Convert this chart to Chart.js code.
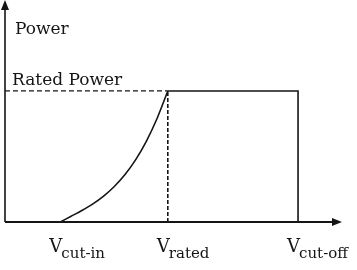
<!DOCTYPE html>
<html><head><meta charset="utf-8">
<script src="https://cdn.jsdelivr.net/npm/chart.js@4/dist/chart.umd.min.js"></script>
<style>html,body{margin:0;padding:0;background:#fff}#wrap{width:357px;height:270px}</style>
</head><body><div id="wrap"><canvas id="c"></canvas></div>
<script>
// wind speeds (arbitrary units) and power (fraction of rated)
const vCutIn = 3.4;
const vRated = 10;
const vCutOff = 18;
const ratedPower = 1;
const curveX = [3.4, 4.06, 4.72, 5.38, 6.04, 6.7, 7.36, 8.02, 8.68, 9.34, 10];
const curveY = [0, 0.044, 0.088, 0.137, 0.196, 0.269, 0.36, 0.474, 0.616, 0.79, 1];
const tickValues = [vCutIn, vRated, vCutOff];
const tickMain = ['V', 'V', 'V'];
const tickSub = ['cut-in', 'rated', 'cut-off'];
const yTitle = 'Power';
const ratedLabel = 'Rated Power';

const ink = '#151515';
const curveData = curveX.map((x, i) => ({x, y: curveY[i]}));

const overlay = {
  id: 'overlay',
  afterDraw(chart) {
    const {ctx, chartArea: a, scales: {x, y}} = chart;
    ctx.save();
    ctx.strokeStyle = ink; ctx.fillStyle = ink;
    // axes
    ctx.lineWidth = 1.6;
    ctx.beginPath(); ctx.moveTo(a.left, a.bottom); ctx.lineTo(a.left, a.top + 4); ctx.stroke();
    ctx.lineWidth = 2;
    ctx.beginPath(); ctx.moveTo(a.left, a.bottom); ctx.lineTo(a.right - 4, a.bottom); ctx.stroke();
    // arrows
    ctx.beginPath(); ctx.moveTo(a.left, a.top - 2); ctx.lineTo(a.left - 4, a.top + 8); ctx.lineTo(a.left + 4, a.top + 8); ctx.closePath(); ctx.fill();
    ctx.beginPath(); ctx.moveTo(a.right, a.bottom); ctx.lineTo(a.right - 10, a.bottom - 4); ctx.lineTo(a.right - 10, a.bottom + 4); ctx.closePath(); ctx.fill();
    // texts
    ctx.textBaseline = 'alphabetic';
    ctx.textAlign = 'left';
    ctx.font = '17px "DejaVu Serif"';
    ctx.fillText(yTitle, a.left + 10, 34);
    ctx.fillText(ratedLabel, a.left + 7, y.getPixelForValue(ratedPower) - 6);
    tickValues.forEach((v, i) => {
      const px = x.getPixelForValue(v);
      ctx.font = '18px "DejaVu Serif"';
      const mx = px - 11;
      ctx.fillText(tickMain[i], mx, a.bottom + 30);
      const w = ctx.measureText(tickMain[i]).width;
      ctx.font = '15px "DejaVu Serif"';
      ctx.fillText(tickSub[i], mx + w - 1, a.bottom + 36);
    });
    ctx.restore();
  }
};

new Chart(document.getElementById('c'), {
  type: 'scatter',
  data: {
    datasets: [
      {data: curveData, showLine: true, borderColor: ink, borderWidth: 1.6, pointRadius: 0, cubicInterpolationMode: 'monotone', clip: false},
      {data: [{x: 0, y: ratedPower}, {x: vRated, y: ratedPower}], showLine: true, borderColor: ink, borderWidth: 1.2, borderDash: [5, 3], pointRadius: 0, clip: false},
      {data: [{x: vRated, y: 0}, {x: vRated, y: ratedPower}], showLine: true, borderColor: ink, borderWidth: 1.6, borderDash: [4, 2], pointRadius: 0, clip: false},
      {data: [{x: vRated, y: ratedPower}, {x: vCutOff, y: ratedPower}, {x: vCutOff, y: 0}], showLine: true, borderColor: ink, borderWidth: 1.6, pointRadius: 0, clip: false}
    ]
  },
  options: {
    responsive: true, maintainAspectRatio: false, animation: false,
    layout: {padding: {left: 5, right: 15, top: 2, bottom: 48}},
    plugins: {legend: {display: false}, tooltip: {enabled: false}},
    scales: {
      x: {type: 'linear', min: 0, max: 20.7, display: false},
      y: {type: 'linear', min: 0, max: 1.679, display: false}
    }
  },
  plugins: [overlay]
});
</script></body></html>
